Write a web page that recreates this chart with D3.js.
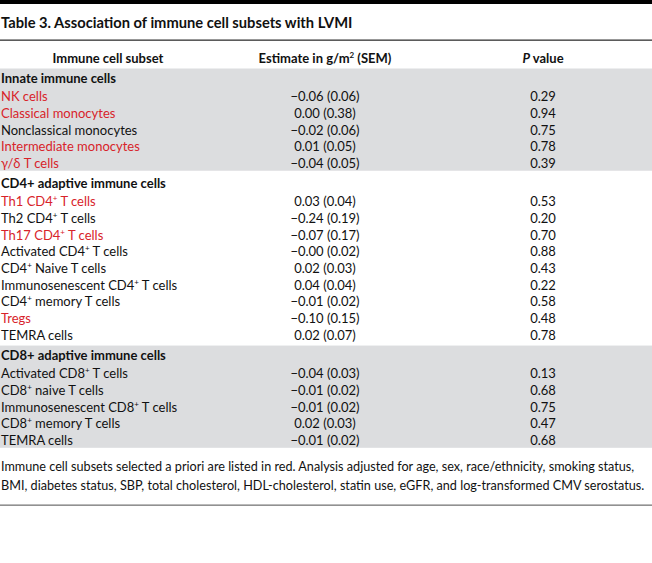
<!DOCTYPE html>
<html lang="en">
<head>
<meta charset="UTF-8">
<script src="https://d3js.org/d3.v7.min.js"></script>
<style>
  body { margin: 0; background: #fff; }
  svg { display: block; font-family: Lato, "Noto Sans", sans-serif; }
</style>
</head>
<body>
<div id="here"></div>
<script>
    // table content
    const groups = ["Innate immune cells", "CD4+ adaptive immune cells", "CD8+ adaptive immune cells"];
    // subset names, "^" marks a superscript "+"
    const subsets = [
        ["NK cells", "Classical monocytes", "Nonclassical monocytes", "Intermediate monocytes", "\u03b3/\u03b4 T cells"],
        ["Th1 CD4^ T cells", "Th2 CD4^ T cells", "Th17 CD4^ T cells", "Activated CD4^ T cells", "CD4^ Naive T cells",
         "Immunosenescent CD4^ T cells", "CD4^ memory T cells", "Tregs", "TEMRA cells"],
        ["Activated CD8^ T cells", "CD8^ naive T cells", "Immunosenescent CD8^ T cells", "CD8^ memory T cells", "TEMRA cells"]
    ];
    const estimates = [
        ["\u22120.06", "0.00", "\u22120.02", "0.01", "\u22120.04"],
        ["0.03", "\u22120.24", "\u22120.07", "\u22120.00", "0.02", "0.04", "\u22120.01", "\u22120.10", "0.02"],
        ["\u22120.04", "\u22120.01", "\u22120.01", "0.02", "\u22120.01"]
    ];
    const sems = [
        ["0.06", "0.38", "0.06", "0.05", "0.05"],
        ["0.04", "0.19", "0.17", "0.02", "0.03", "0.04", "0.02", "0.15", "0.07"],
        ["0.03", "0.02", "0.02", "0.03", "0.02"]
    ];
    const pValues = [
        ["0.29", "0.94", "0.75", "0.78", "0.39"],
        ["0.53", "0.20", "0.70", "0.88", "0.43", "0.22", "0.58", "0.48", "0.78"],
        ["0.13", "0.68", "0.75", "0.47", "0.68"]
    ];
    // selected a priori (shown in red)
    const apriori = [
        [true, true, false, true, true],
        [true, false, true, false, false, false, false, true, false],
        [false, false, false, false, false]
    ];
    const title = "Table 3. Association of immune cell subsets with LVMI";
    const footnote = [
        "Immune cell subsets selected a priori are listed in red. Analysis adjusted for age, sex, race/ethnicity, smoking status,",
        "BMI, diabetes status, SBP, total cholesterol, HDL-cholesterol, statin use, eGFR, and log-transformed CMV serostatus."
    ];

    const W = 652, H = 563;
    const RED = "#d8232a", BAND = "#dcdddf";

    const svg = d3.select("#here").append("svg")
        .attr("width", W).attr("height", H);

    // flatten rows: group header rows + item rows
    const rows = [];
    groups.forEach((g, gi) => {
        rows.push({type: "group", gi: gi, label: g});
        subsets[gi].forEach((s, k) => {
            rows.push({type: "item", gi: gi, label: s, est: estimates[gi][k], sem: sems[gi][k],
                       p: pValues[gi][k], red: apriori[gi][k]});
        });
    });

    // vertical position: uniform step plus small extra space around group headers
    const y = d3.scaleLinear().domain([0, 1]).range([78, 94.65]);
    let units = 0;
    rows.forEach((r, i) => {
        if (i > 0) {
            units += 1;
            if (r.type === "group") units += 0.2;
            if (rows[i - 1].type === "group") units += 0.12;
        }
        r.y = y(units);
    });

    const x = d3.scaleOrdinal().domain(["name", "est", "p"]).range([1, 325, 543]);

    // shaded bands for groups 1 and 3
    [0, 2].forEach(gi => {
        const gr = rows.filter(r => r.gi === gi);
        const top = gr[0].y - 9.5, bot = gr[gr.length - 1].y + 7.5;
        svg.append("rect").attr("x", 0).attr("y", top).attr("width", W).attr("height", bot - top)
            .attr("fill", BAND);
    });

    // top bar, rules
    svg.append("rect").attr("x", 0).attr("y", 0).attr("width", W).attr("height", 4).attr("fill", "#000");
    svg.append("rect").attr("x", 0).attr("y", 39.5).attr("width", W).attr("height", 1.3).attr("fill", "#333");
    svg.append("rect").attr("x", 0).attr("y", 504.5).attr("width", W).attr("height", 1.3).attr("fill", "#777");

    svg.append("text").attr("x", 1).attr("y", 23).attr("dy", "0.35em")
        .attr("font-size", 14.7).attr("font-weight", 700).attr("fill", "#111").text(title);

    // column headers
    const hy = 58;
    svg.append("text").attr("x", 108).attr("y", hy).attr("dy", "0.35em").attr("text-anchor", "middle")
        .attr("font-size", 13).attr("font-weight", 700).attr("fill", "#111").text("Immune cell subset");
    const h2 = svg.append("text").attr("x", x("est")).attr("y", hy).attr("dy", "0.35em").attr("text-anchor", "middle")
        .attr("font-size", 13).attr("font-weight", 700).attr("fill", "#111");
    h2.append("tspan").text("Estimate in g/m");
    h2.append("tspan").attr("font-size", 8).attr("dy", -5).text("2");
    h2.append("tspan").attr("dy", 5).text(" (SEM)");
    const h3 = svg.append("text").attr("x", x("p")).attr("y", hy).attr("dy", "0.35em").attr("text-anchor", "middle")
        .attr("font-size", 13).attr("font-weight", 700).attr("fill", "#111");
    h3.append("tspan").attr("font-style", "italic").text("P");
    h3.append("tspan").text(" value");

    // body rows
    function addLabel(sel, label) {
        label.split("^").forEach((part, i) => {
            if (i > 0) sel.append("tspan").attr("font-size", 8).attr("dy", -5).text("+");
            sel.append("tspan").attr("dy", i > 0 ? 5 : null).text(part);
        });
    }

    const g = svg.selectAll("g.row").data(rows).enter().append("g").attr("class", "row")
        .attr("transform", d => `translate(0,${d.y})`);

    g.each(function (d) {
        const row = d3.select(this);
        const t = row.append("text").attr("x", x("name")).attr("dy", "0.35em")
            .attr("font-size", 13).attr("fill", d.red ? RED : "#111")
            .attr("font-weight", d.type === "group" ? 700 : 400);
        addLabel(t, d.label);
        if (d.type === "item") {
            row.append("text").attr("x", x("est")).attr("dy", "0.35em").attr("text-anchor", "middle")
                .attr("font-size", 13).attr("fill", "#111").text(`${d.est} (${d.sem})`);
            row.append("text").attr("x", x("p")).attr("dy", "0.35em").attr("text-anchor", "middle")
                .attr("font-size", 13).attr("fill", "#111").text(d.p);
        }
    });

    svg.selectAll("text.foot").data(footnote).enter().append("text").attr("class", "foot")
        .attr("x", 1).attr("y", (d, i) => 467 + i * 19).attr("dy", "0.35em")
        .attr("font-size", 12.65).attr("fill", "#111").text(d => d);
</script>
</body>
</html>
